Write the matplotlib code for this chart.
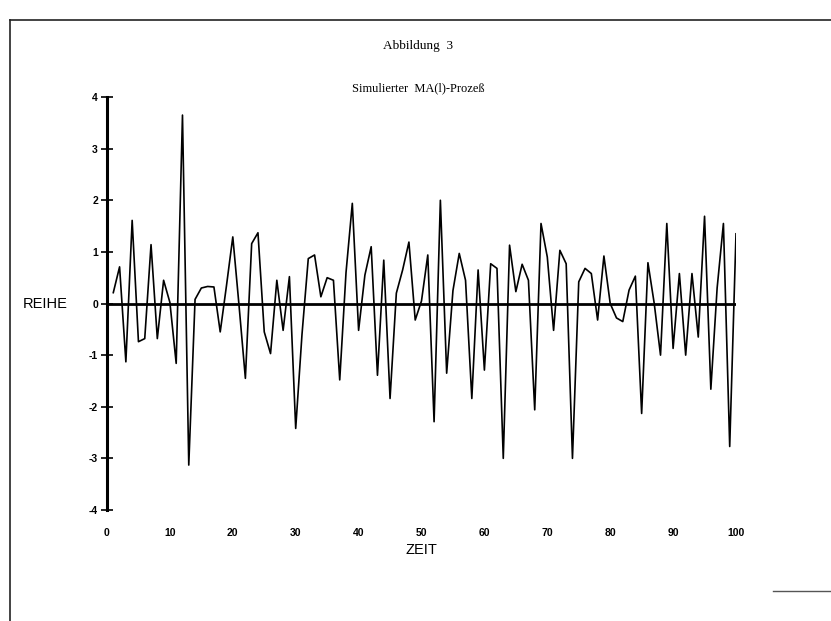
import matplotlib
matplotlib.use("Agg")
import matplotlib.pyplot as plt
from matplotlib.lines import Line2D

# ---- data ----
zeit = list(range(1, 101))
reihe = [
    0.21, 0.71, -1.13, 1.61, -0.74, -0.68, 1.14, -0.68, 0.45, 0.02,
    -1.16, 3.65, -3.13, 0.08, 0.30, 0.33, 0.32, -0.55, 0.35, 1.29,
    -0.05, -1.45, 1.16, 1.37, -0.55, -0.97, 0.45, -0.52, 0.52, -2.42,
    -0.60, 0.87, 0.94, 0.13, 0.50, 0.45, -1.48, 0.60, 1.94, -0.52,
    0.55, 1.10, -1.39, 0.84, -1.84, 0.20, 0.65, 1.19, -0.32, 0.05,
    0.94, -2.29, 2.00, -1.35, 0.25, 0.97, 0.45, -1.84, 0.65, -1.29,
    0.77, 0.68, -3.00, 1.13, 0.23, 0.76, 0.45, -2.06, 1.55, 0.90,
    -0.52, 1.03, 0.77, -3.00, 0.42, 0.68, 0.58, -0.32, 0.92, 0.00,
    -0.28, -0.35, 0.26, 0.53, -2.13, 0.79, 0.00, -1.00, 1.55, -0.87,
    0.58, -1.00, 0.58, -0.65, 1.69, -1.66, 0.30, 1.55, -2.77, 1.35,
]
x_ticks = [0, 10, 20, 30, 40, 50, 60, 70, 80, 90, 100]
y_ticks = [4, 3, 2, 1, 0, -1, -2, -3, -4]
y_ticklabels = ["4", "3", "2", "1", "0", "-1", "-2", "-3", "-4"]
title1 = "Abbildung  3"
title2 = "Simulierter  MA(l)-Prozeß"
xlabel = "ZEIT"
ylabel = "REIHE"

W, H = 831, 621
fig = plt.figure(figsize=(W / 100, H / 100), dpi=100)
fig.patch.set_facecolor("white")

# axes placement: x 0 -> px 107, x 100 -> px 736 ; y 4 -> px 97, y -4 -> px 510
left, right, top, bottom = 107, 736, 97, 510
ax = fig.add_axes([left / W, 1 - bottom / H, (right - left) / W, (bottom - top) / H])
ax.set_xlim(0, 100)
ax.set_ylim(-4, 4)

ax.plot(zeit, reihe, color="black", linewidth=1.2)
ax.axhline(0, color="black", linewidth=2.0, zorder=3)

for s in ["top", "right", "bottom"]:
    ax.spines[s].set_visible(False)
ax.spines["left"].set_linewidth(2.2)

tick_font = dict(family=["Liberation Sans Narrow", "Liberation Sans", "DejaVu Sans"],
                 weight="bold", size=7.5)
ax.set_yticks(y_ticks)
ax.set_yticklabels(y_ticklabels, fontdict=tick_font)
ax.tick_params(axis="y", direction="inout", length=9, width=1.2, pad=2)
ax.set_xticks(x_ticks)
ax.set_xticklabels([str(v) for v in x_ticks], fontdict=tick_font)
ax.tick_params(axis="x", length=0, pad=13)

fig.text(45 / W, 1 - 304 / H, ylabel, ha="center", va="center",
         family=["Liberation Sans", "DejaVu Sans"], fontsize=10.5)
fig.text(421 / W, 1 - 550 / H, xlabel, ha="center", va="center",
         family=["Liberation Sans", "DejaVu Sans"], fontsize=10.5)
fig.text(418 / W, 1 - 46 / H, title1, ha="center", va="center",
         family=["Liberation Serif", "DejaVu Serif"], fontsize=9.5)
fig.text(418 / W, 1 - 88 / H, title2, ha="center", va="center",
         family=["Liberation Serif", "DejaVu Serif"], fontsize=9)

# scan frame lines
fig.add_artist(Line2D([10 / W, 10 / W], [0, 1 - 20 / H], transform=fig.transFigure,
                      color="#222222", linewidth=1.2))
fig.add_artist(Line2D([10 / W, 1], [1 - 20 / H, 1 - 20 / H], transform=fig.transFigure,
                      color="#222222", linewidth=1.2))
fig.add_artist(Line2D([773 / W, 1], [1 - 591 / H, 1 - 591 / H], transform=fig.transFigure,
                      color="#555555", linewidth=1.0))

fig.savefig("out.png", dpi=100, facecolor="white")
